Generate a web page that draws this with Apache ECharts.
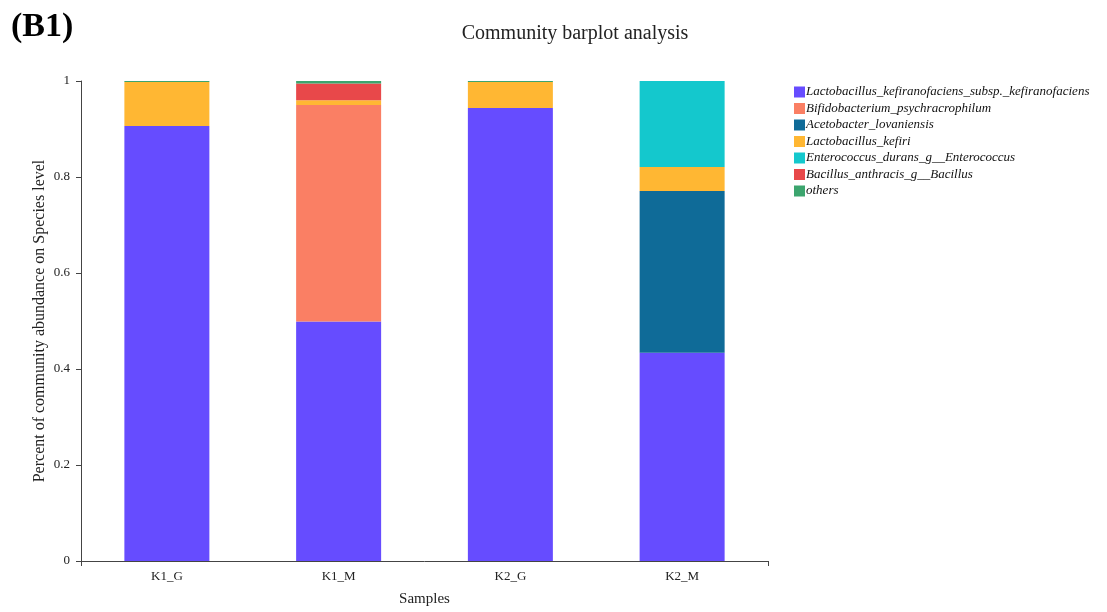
<!DOCTYPE html>
<html>
<head>
<meta charset="utf-8">
<script src="https://cdn.jsdelivr.net/npm/echarts@6/dist/echarts.min.js"></script>
<style>html,body{margin:0;padding:0;background:#fff}#c{width:1107px;height:612px}</style>
</head>
<body>
<div id="c"></div>
<script>
var categories = ['K1_G', 'K1_M', 'K2_G', 'K2_M'];
var speciesNames = [
  'Lactobacillus_kefiranofaciens_subsp._kefiranofaciens',
  'Bifidobacterium_psychracrophilum',
  'Acetobacter_lovaniensis',
  'Lactobacillus_kefiri',
  'Enterococcus_durans_g__Enterococcus',
  'Bacillus_anthracis_g__Bacillus',
  'others'
];
var lactoKefiranofaciens = [0.906, 0.499, 0.944, 0.434];
var bifidobacterium      = [0.000, 0.451, 0.000, 0.000];
var acetobacter          = [0.000, 0.000, 0.000, 0.337];
var lactoKefiri          = [0.092, 0.010, 0.054, 0.050];
var enterococcus         = [0.000, 0.000, 0.000, 0.179];
var bacillus             = [0.000, 0.035, 0.000, 0.000];
var others               = [0.002, 0.005, 0.002, 0.000];
var yTicks = [0, 0.2, 0.4, 0.6, 0.8, 1];

var seriesData = [lactoKefiranofaciens, bifidobacterium, acetobacter, lactoKefiri, enterococcus, bacillus, others];
var colors = ['#664cff', '#fa7f64', '#0f6b98', '#ffb733', '#14c8cd', '#e8484a', '#3ca56e'];
var serif = '"Liberation Serif", "DejaVu Serif", serif';

var chart = echarts.init(document.getElementById('c'));
chart.setOption({
  animation: false,
  color: colors,
  textStyle: {fontFamily: serif},
  title: [
    {text: '(B1)', left: 6, top: 5, textStyle: {fontFamily: serif, fontSize: 34, fontWeight: 'bold', color: '#000'}},
    {text: 'Community barplot analysis', left: 570, textAlign: 'center', top: 19, textStyle: {fontFamily: serif, fontSize: 20, fontWeight: 'normal', color: '#222'}}
  ],
  legend: {
    orient: 'vertical', left: 789, top: 80,
    itemWidth: 11, itemHeight: 11, itemGap: 2.5,
    icon: 'rect',
    textStyle: {fontFamily: serif, fontSize: 13, lineHeight: 14, fontStyle: 'italic', color: '#111', padding: [0, 0, 0, -4]},
    data: speciesNames
  },
  grid: {left: 81, right: 339, top: 81, bottom: 50},
  xAxis: [{
    type: 'category', data: categories,
    name: 'Samples', nameLocation: 'middle', nameGap: 31,
    nameTextStyle: {fontFamily: serif, fontSize: 15, color: '#222'},
    axisLine: {lineStyle: {color: '#444'}},
    axisTick: {alignWithLabel: true, length: 5, lineStyle: {color: '#444'}},
    axisLabel: {fontFamily: serif, fontSize: 13, color: '#222', margin: 9}
  }, {
    type: 'value', min: 0, max: 4, interval: 4, position: 'bottom',
    axisLine: {show: false}, splitLine: {show: false},
    axisTick: {show: true, length: 5, lineStyle: {color: '#444'}},
    axisLabel: {show: false}
  }],
  yAxis: {
    type: 'value', min: 0, max: 1, interval: 0.2,
    name: 'Percent of community abundance on Species level',
    nameLocation: 'middle', nameGap: 33, nameMoveOverlap: false,
    nameTextStyle: {fontFamily: serif, fontSize: 16, color: '#222'},
    axisLine: {show: true, lineStyle: {color: '#444'}},
    axisTick: {show: true, length: 5, lineStyle: {color: '#444'}},
    axisLabel: {fontFamily: serif, fontSize: 13, color: '#222', margin: 11,
      formatter: function (v) { return yTicks.indexOf(Math.round(v * 10) / 10) >= 0 ? String(Math.round(v * 10) / 10) : ''; }},
    splitLine: {show: false}
  },
  series: speciesNames.map(function (n, i) {
    return {name: n, type: 'bar', stack: 'total', barWidth: 85, xAxisIndex: 0, data: seriesData[i]};
  })
});
</script>
</body>
</html>
